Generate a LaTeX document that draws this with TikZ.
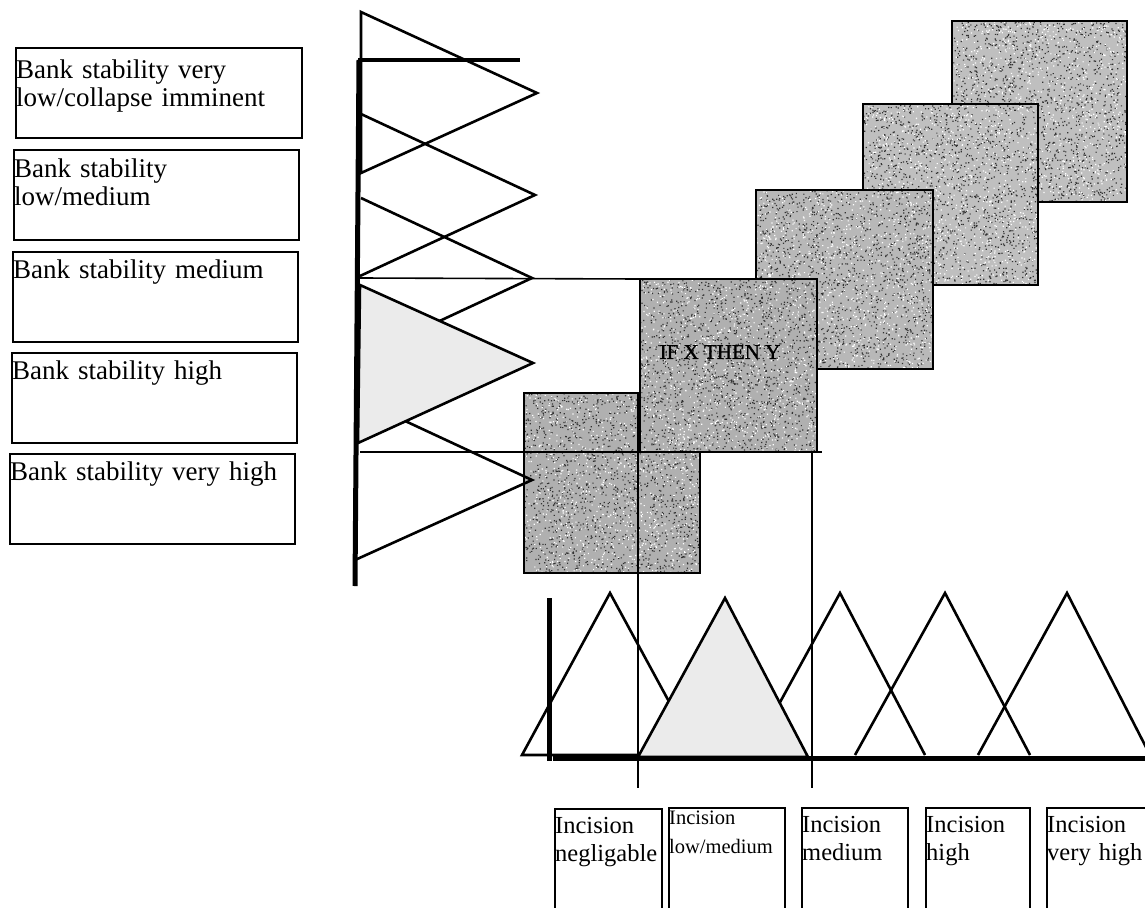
\documentclass[tikz,border=0pt]{standalone}
\usepackage{fontspec}
\setmainfont{Liberation Serif}
\newfontfamily\rulefont[FakeBold=1.2]{Liberation Serif}
% stippled fill for a rule block: dark and light specks (one path each), then the outline
\newcommand\grainbox[5]{%
  \begin{scope}
    \clip (#1.north west) rectangle (#1.south east);
    \fill[black!80] foreach \k in {1,...,#4} {([shift={(rnd*#2,rnd*#3)}]#1.north west) rectangle +(1.2,1.2)};
    \fill[white] foreach \k in {1,...,#5} {([shift={(rnd*#2,rnd*#3)}]#1.north west) rectangle +(1.2,1.2)};
  \end{scope}
  \draw[line width=2pt] (#1.north west) rectangle (#1.south east);
}
\begin{document}
\begin{tikzpicture}[x=1pt,y=-1pt,
  lbox/.style={draw, line width=1.6pt, inner sep=0pt, anchor=north west, minimum height=90pt},
  ltext/.style={anchor=base west, inner sep=0pt, align=left, text width=290pt,
                font=\fontsize{27}{28.5}\selectfont},
  ibox/.style={draw, line width=1.6pt, inner sep=0pt, anchor=north west, minimum height=115pt},
  itext/.style={anchor=base west, inner sep=0pt, align=left, text width=120pt,
                font=\fontsize{24.5}{28}\selectfont},
  sq/.style={inner sep=0pt, anchor=north west},
  mf/.style={draw, line width=2.6pt, line join=miter},
  guide/.style={draw, line width=1.6pt},
  axis/.style={draw, line width=5pt}
]
\definecolor{sqlight}{gray}{0.75}
\definecolor{sqmid}{gray}{0.72}
\definecolor{sqdark}{gray}{0.69}
\definecolor{trifill}{gray}{0.92}
\pgfmathsetseed{7}
\useasboundingbox (0,0) rectangle (1145,907);
\clip (0,0) rectangle (1145,907);

% --- rule blocks, stacked along the diagonal ---
\node[sq, fill=sqlight, minimum width=175pt, minimum height=181pt] (sqD) at (952,21) {};
\grainbox{sqD}{175}{181}{1500}{900}
\node[sq, fill=sqlight, minimum width=175pt, minimum height=181pt] (sqC) at (863,104) {};
\grainbox{sqC}{175}{181}{1500}{900}
\node[sq, fill=sqmid,   minimum width=177pt, minimum height=179pt] (sqB) at (756,190) {};
\grainbox{sqB}{177}{179}{1500}{900}
\node[sq, fill=sqdark,  minimum width=176pt, minimum height=180pt] (sqS) at (524,393) {};
\grainbox{sqS}{176}{180}{1500}{900}
\node[sq, fill=sqdark,  minimum width=177pt, minimum height=173pt] (sqIF) at (640,279) {};
\grainbox{sqIF}{177}{173}{1500}{900}
\node[font=\rulefont\fontsize{21}{21}\selectfont, inner sep=0pt] (rule) at (720,352) {IF X THEN Y};

% --- bank stability membership functions (vertical axis) ---
\coordinate (a1) at (361,12);  \coordinate (b1) at (537,93);  \coordinate (c1) at (361,173);
\coordinate (a2) at (361,114); \coordinate (b2) at (535,195); \coordinate (c2) at (360,276);
\coordinate (a3) at (361,198); \coordinate (b3) at (532,278); \coordinate (c3) at (360,358);
\coordinate (a4) at (360,285); \coordinate (b4) at (533,363); \coordinate (c4) at (358,443);
\coordinate (a5) at (360,400); \coordinate (b5) at (532,480); \coordinate (c5) at (355,560);
\draw[mf] (a1) -- (b1) -- (c1) -- cycle;
\draw[mf] (a2) -- (b2) -- (c2);
\draw[mf] (a3) -- (b3) -- (c3);
\draw[mf] (a5) -- (b5) -- (c5);
\draw[mf, fill=trifill] (a4) -- (b4) -- (c4) -- cycle;

% --- guide lines linking input level and output set ---
\coordinate (h1) at (360,278);
\coordinate (h2s) at (360,452); \coordinate (h2e) at (822,452);
\coordinate (v1s) at (638,393); \coordinate (v1e) at (638,788);
\coordinate (v2s) at (812,452); \coordinate (v2e) at (812,788);
\draw[guide] (h1) -- (sqIF.north west);
\draw[guide] (h2s) -- (h2e);
\draw[guide] (v1s) -- (v1e);
\draw[guide] (v2s) -- (v2e);

% --- incision membership functions (horizontal axis) ---
\coordinate (p1) at (522,755); \coordinate (q1) at (610,593); \coordinate (r1) at (698,755);
\coordinate (p2) at (638,757); \coordinate (q2) at (725,598); \coordinate (r2) at (808,757);
\coordinate (p3) at (751,755); \coordinate (q3) at (840,593); \coordinate (r3) at (925,755);
\coordinate (p4) at (855,755); \coordinate (q4) at (945,593); \coordinate (r4) at (1030,755);
\coordinate (p5) at (978,755); \coordinate (q5) at (1067,593); \coordinate (r5) at (1150,755);
\draw[mf] (p1) -- (q1) -- (r1) -- cycle;
\draw[mf] (p3) -- (q3) -- (r3);
\draw[mf] (p4) -- (q4) -- (r4);
\draw[mf] (p5) -- (q5) -- (r5);
\draw[mf, fill=trifill] (p2) -- (q2) -- (r2) -- cycle;

% --- axes ---
\coordinate (ytop) at (359,60); \coordinate (ybot) at (355,586);
\coordinate (ybar) at (520,60);
\coordinate (xl) at (553,758); \coordinate (xr) at (1150,758);
\coordinate (xvt) at (549,598); \coordinate (xvb) at (549,761);
\draw[axis, line width=4pt] (358,60) -- (ybar);
\draw[axis] (ytop) -- (ybot);
\draw[axis] (xl) -- (xr);
\draw[axis] (xvt) -- (xvb);

% --- bank stability classes ---
\node[lbox, minimum width=286pt] (bs1) at (15,47) {};
\node[lbox, minimum width=285pt] (bs2) at (13,149) {};
\node[lbox, minimum width=285pt] (bs3) at (12,251) {};
\node[lbox, minimum width=285pt] (bs4) at (11,352) {};
\node[lbox, minimum width=285pt] (bs5) at (9,453) {};
\node[ltext] (t1) at ([shift={(1,31)}]bs1.north west) {Bank stability very\\low/collapse imminent};
\node[ltext] (t2) at ([shift={(1,28)}]bs2.north west) {Bank stability\\low/medium};
\node[ltext] (t3) at ([shift={(1,27)}]bs3.north west) {Bank stability medium};
\node[ltext] (t4) at ([shift={(1,27)}]bs4.north west) {Bank stability high};
\node[ltext] (t5) at ([shift={(1,27)}]bs5.north west) {Bank stability very high};

% --- incision classes ---
\node[ibox, minimum width=107pt] (ib1) at (554,808) {};
\node[ibox, minimum width=116pt] (ib2) at (668,807) {};
\node[ibox, minimum width=106pt] (ib3) at (801,807) {};
\node[ibox, minimum width=104pt] (ib4) at (925,807) {};
\node[ibox, minimum width=120pt] (ib5) at (1046,807) {};
\node[itext] (u1) at ([shift={(1,25)}]ib1.north west) {Incision\\negligable};
\node[itext, font=\fontsize{20.5}{29}\selectfont] (u2) at ([shift={(1,17)}]ib2.north west) {Incision\\low/medium};
\node[itext] (u3) at ([shift={(1,25)}]ib3.north west) {Incision\\medium};
\node[itext] (u4) at ([shift={(1,25)}]ib4.north west) {Incision\\high};
\node[itext] (u5) at ([shift={(1,25)}]ib5.north west) {Incision\\very high};
\end{tikzpicture}
\end{document}
